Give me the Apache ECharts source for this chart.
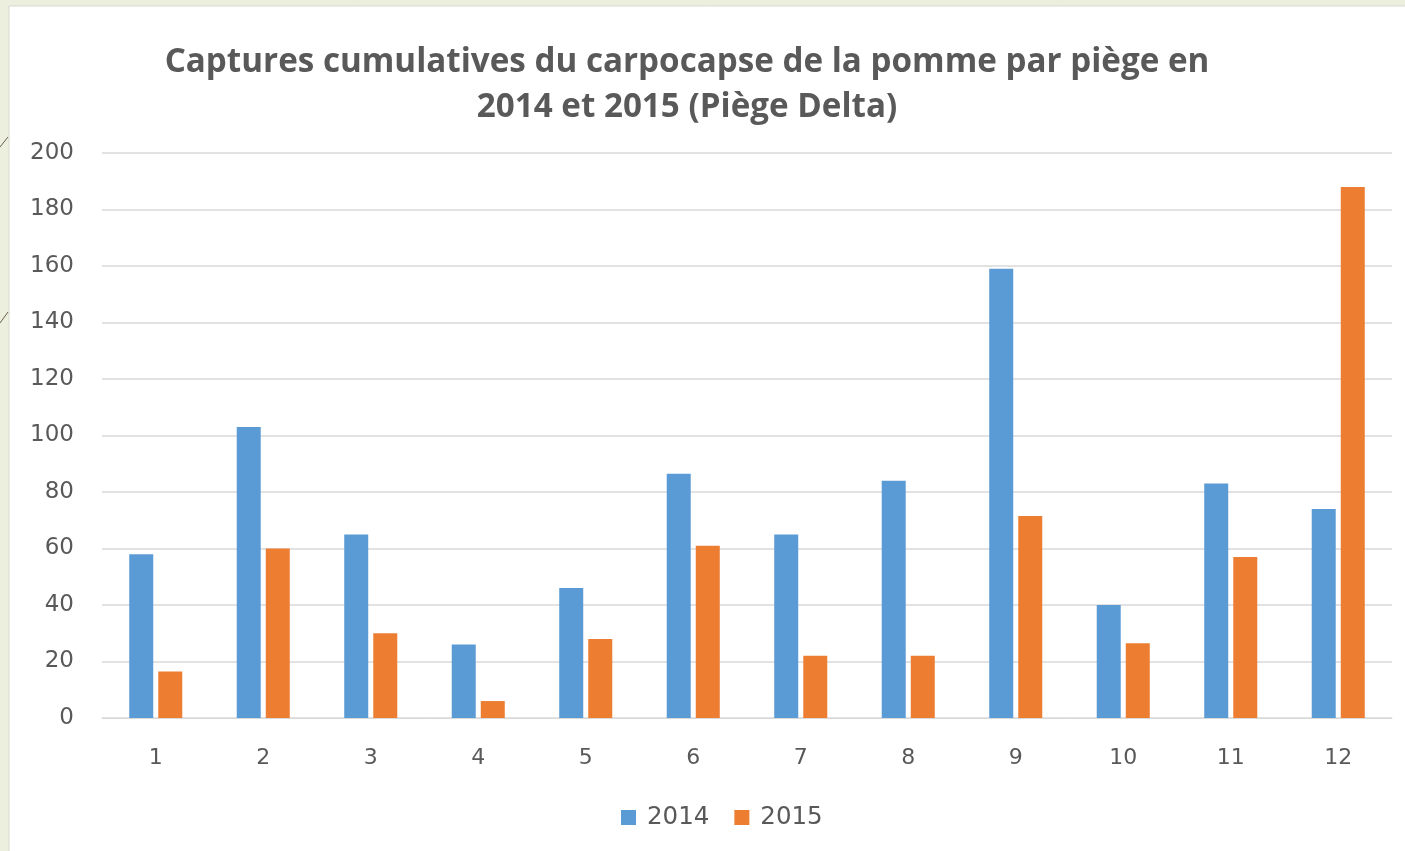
<!DOCTYPE html>
<html><head><meta charset="utf-8">
<script src="https://cdn.jsdelivr.net/npm/echarts@6/dist/echarts.min.js"></script>
<style>html,body{margin:0;padding:0;background:#ECEFDD;}#c{width:1405px;height:851px;}</style>
</head><body><div id="c"></div>
<script>
const categories = ['1','2','3','4','5','6','7','8','9','10','11','12'];
const values2014 = [58, 103, 65, 26, 46, 86.5, 65, 84, 159, 40, 83, 74];
const values2015 = [16.5, 60, 30, 6, 28, 61, 22, 22, 71.5, 26.5, 57, 188];
const yTicks = [0, 20, 40, 60, 80, 100, 120, 140, 160, 180, 200];
const seriesNames = ['2014', '2015'];
const titleText = 'Captures cumulatives du carpocapse de la pomme par piège en\n2014 et 2015 (Piège Delta)';

const chart = echarts.init(document.getElementById('c'), null, {renderer: 'canvas'});
const font = '"Open Sans", "Noto Sans", sans-serif';
const labelFont = '"DejaVu Sans", sans-serif';
chart.setOption({
  backgroundColor: '#ECEFDD',
  animation: false,
  graphic: [
    {type: 'rect', shape: {x: 9, y: 6, width: 1400, height: 850}, style: {fill: '#FFFFFF', stroke: '#D9DACD', lineWidth: 1}, z: -10},
    {type: 'line', shape: {x1: 0, y1: 147, x2: 8, y2: 137}, style: {stroke: '#6B5F4E', lineWidth: 1}},
    {type: 'line', shape: {x1: 0, y1: 323, x2: 8, y2: 312}, style: {stroke: '#6B5F4E', lineWidth: 1}}
  ],
  title: {
    text: titleText,
    left: 682, top: 35, textAlign: 'center',
    textStyle: {fontFamily: font, fontWeight: 'bold', fontSize: 33.2, color: '#595959', lineHeight: 45}
  },
  legend: {
    data: seriesNames, top: 800, left: 616,
    itemWidth: 15, itemHeight: 15, itemGap: 25, icon: 'rect',
    textStyle: {fontFamily: labelFont, fontSize: 24.5, color: '#595959', padding: [0, 0, 0, 6]}
  },
  grid: {left: 102, right: 13, top: 153, bottom: 133},
  xAxis: {
    type: 'category', data: categories,
    axisLine: {lineStyle: {color: '#D9D9D9', width: 1}},
    axisTick: {show: false},
    axisLabel: {fontFamily: labelFont, fontSize: 22, color: '#595959', margin: 29}
  },
  yAxis: {
    type: 'value', min: yTicks[0], max: yTicks[yTicks.length - 1], interval: 20,
    axisLine: {show: false}, axisTick: {show: false},
    splitLine: {lineStyle: {color: '#D9D9D9', width: 1.5}},
    axisLabel: {fontFamily: labelFont, fontSize: 23, color: '#595959', margin: 28}
  },
  series: [
    {name: seriesNames[0], type: 'bar', data: values2014, barWidth: 24, barGap: '21%',
     itemStyle: {color: '#5B9BD5'}},
    {name: seriesNames[1], type: 'bar', data: values2015, barWidth: 24,
     itemStyle: {color: '#ED7D31'}}
  ]
});
</script></body></html>
